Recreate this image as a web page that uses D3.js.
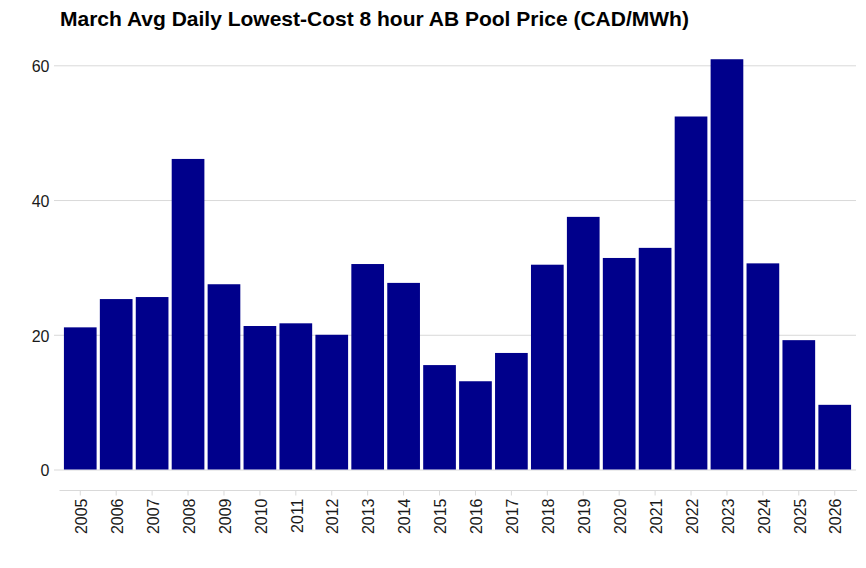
<!DOCTYPE html>
<html>
<head>
<meta charset="utf-8">
<script src="https://cdn.jsdelivr.net/npm/d3@7"></script>
<style>
  body { margin: 0; background: #fff; }
  text { font-family: "Liberation Sans", Arial, sans-serif; }
</style>
</head>
<body>
<div class="chart-container"></div>
<script>
// Chart data
const years = ['2005', '2006', '2007', '2008', '2009', '2010', '2011', '2012', '2013', '2014', '2015',
    '2016', '2017', '2018', '2019', '2020', '2021', '2022', '2023', '2024', '2025', '2026'];
const prices = [21.1, 25.3, 25.6, 46.1, 27.5, 21.3, 21.7, 20.0, 30.5, 27.7, 15.5,
    13.1, 17.3, 30.4, 37.5, 31.4, 32.9, 52.4, 60.9, 30.6, 19.2, 9.6];
const yTicks = [0, 20, 40, 60];
const title = 'March Avg Daily Lowest-Cost 8 hour AB Pool Price (CAD/MWh)';

const width = 866, height = 568;

const svg = d3.select('.chart-container')
    .append('svg')
    .attr('width', width)
    .attr('height', height);

// Scales
const x = d3.scaleBand()
    .domain(years)
    .range([62.3, 852.7])
    .paddingInner(0.09)
    .paddingOuter(0.045);

const y = d3.scaleLinear()
    .domain([0, 60])
    .range([469.5, 65.3]);

// Title
svg.append('text')
    .attr('x', 60)
    .attr('y', 26)
    .attr('font-size', '21px')
    .attr('font-weight', 'bold')
    .attr('fill', '#000')
    .text(title);

// Gridlines + y labels
const yAxis = svg.append('g')
    .call(d3.axisLeft(y).tickValues(yTicks).tickSize(0).tickPadding(0));
yAxis.select('.domain').remove();
yAxis.selectAll('.tick line')
    .attr('x1', 54)
    .attr('x2', 856)
    .attr('stroke', '#d9d9d9')
    .attr('stroke-width', 1);
yAxis.selectAll('.tick text')
    .attr('x', 49.5)
    .attr('dy', '0.4em')
    .attr('font-size', '16px')
    .attr('font-family', '"Liberation Sans", Arial, sans-serif')
    .attr('fill', '#1a1a1a');

// Bars
svg.append('g')
    .selectAll('rect')
    .data(prices)
    .enter()
    .append('rect')
    .attr('x', (d, i) => x(years[i]))
    .attr('y', d => y(d))
    .attr('width', x.bandwidth())
    .attr('height', d => y(0) - y(d))
    .attr('fill', '#00008b');

// X axis
const xAxis = svg.append('g')
    .attr('transform', 'translate(0,490.5)')
    .call(d3.axisBottom(x).tickSize(5).tickPadding(0).tickSizeOuter(0));
xAxis.select('.domain')
    .attr('d', 'M59.5,0H857')
    .attr('stroke', '#d9d9d9');
xAxis.selectAll('.tick line')
    .attr('stroke', '#d9d9d9');
xAxis.selectAll('.tick text')
    .attr('transform', 'translate(0,8) rotate(-90)')
    .attr('y', 0)
    .attr('x', 0)
    .attr('dy', '0.42em')
    .attr('text-anchor', 'end')
    .attr('font-size', '16px')
    .attr('font-family', '"Liberation Sans", Arial, sans-serif')
    .attr('fill', '#1a1a1a');
</script>
</body>
</html>
